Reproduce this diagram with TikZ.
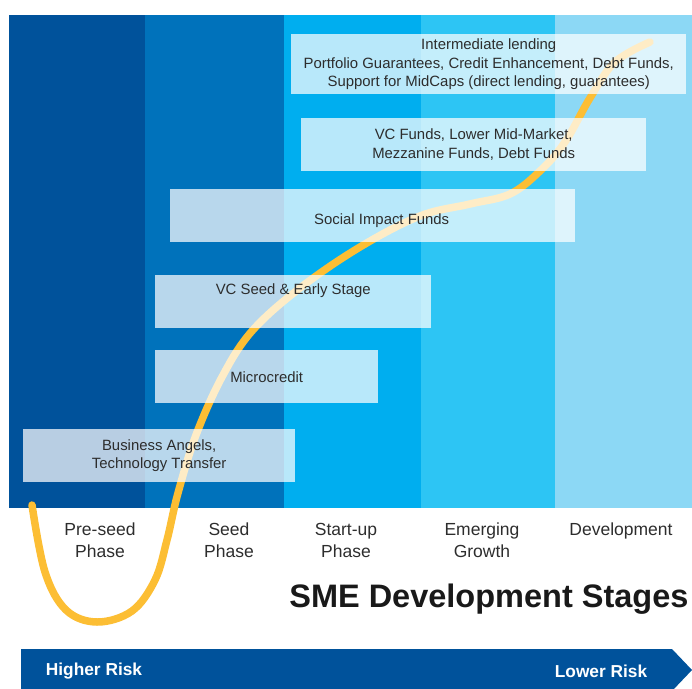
\documentclass[tikz,border=0pt]{standalone}
\usepackage{fontspec}
\setmainfont{Liberation Sans}
\usetikzlibrary{positioning}

\definecolor{stageA}{RGB}{0,82,155}
\definecolor{stageB}{RGB}{0,114,187}
\definecolor{stageC}{RGB}{0,174,239}
\definecolor{stageD}{RGB}{45,197,244}
\definecolor{stageE}{RGB}{140,216,245}
\definecolor{curve}{RGB}{252,190,52}
\definecolor{txt}{RGB}{45,45,45}

\tikzset{
  fundbox/.style={fill=white, fill opacity=0.72, text opacity=1, text=txt,
    anchor=north west, inner sep=0pt, align=center, font=\fontsize{14.9}{18.7}\selectfont},
  stagelabel/.style={text=txt, align=center, anchor=north,
    font=\fontsize{17.5}{22}\selectfont},
  risklabel/.style={text=white, font=\bfseries\fontsize{17.3}{20}\selectfont}
}

\begin{document}
\begin{tikzpicture}[x=1pt,y=-1pt]
  \useasboundingbox (0,0) rectangle (692,688);

  % Stage columns
  \fill[stageA] (9,15) rectangle (145,508);
  \fill[stageB] (145,15) rectangle (284,508);
  \fill[stageC] (284,15) rectangle (421,508);
  \fill[stageD] (421,15) rectangle (555,508);
  \fill[stageE] (555,15) rectangle (692,508);

  % Financing curve
  \draw[curve, line width=7.5pt, line cap=round] plot[smooth, tension=0.6] coordinates {
    (32,505) (45,572) (66,610) (97,622) (132,611) (155,580) (167,540)
    (178,493) (196,435) (222,377) (252,331) (300,288) (360,247) (420,216)
    (470,204) (510,194) (540,171) (565,142) (590,98) (615,62) (650,42)};

  % Instruments
  \node[fundbox, minimum width=395pt, minimum height=60pt] (interm) at (291,34)
    {Intermediate lending\\ Portfolio Guarantees, Credit Enhancement, Debt Funds,\\ Support for MidCaps (direct lending, guarantees)};
  \node[fundbox, minimum width=345pt, minimum height=53pt] (vcfunds) at (301,118)
    {VC Funds, Lower Mid-Market,\\ Mezzanine Funds, Debt Funds};
  \node[fundbox, minimum width=405pt, minimum height=53pt, text height=18pt, text depth=0pt] (social) at (170,189)
    {\hspace*{18pt}Social Impact Funds};
  \node[fundbox, minimum width=276pt, minimum height=53pt] (vcseed) at (155,275)
    {VC Seed \& Early Stage\\ \strut};
  \node[fundbox, minimum width=223pt, minimum height=53pt] (micro) at (155,350)
    {Microcredit};
  \node[fundbox, minimum width=272pt, minimum height=53pt] (angels) at (23,429)
    {Business Angels,\\ Technology Transfer};

  % Stage labels
  \node[stagelabel] (preseed) at (100,517) {\strut Pre-seed\\ Phase};
  \node[stagelabel] (seed) at (229,517) {\strut Seed\\ Phase};
  \node[stagelabel] (startup) at (346,517) {\strut Start-up\\ Phase};
  \node[stagelabel] (emerging) at (482,517) {\strut Emerging\\ Growth};
  \node[stagelabel] (develop) at (621,517) {\strut Development};

  % Title
  \node[anchor=east, text=black!90, font=\bfseries\fontsize{32.5}{38}\selectfont] (title) at (692,599)
    {SME Development Stages};

  % Risk bar
  \fill[stageA] (21,649) -- (672,649) -- (692,670) -- (672,691) -- (21,691) -- cycle;
  \node[risklabel] (high) at (94,671) {Higher Risk};
  \node[risklabel] (low) at (601,671) {Lower Risk};
\end{tikzpicture}
\end{document}
